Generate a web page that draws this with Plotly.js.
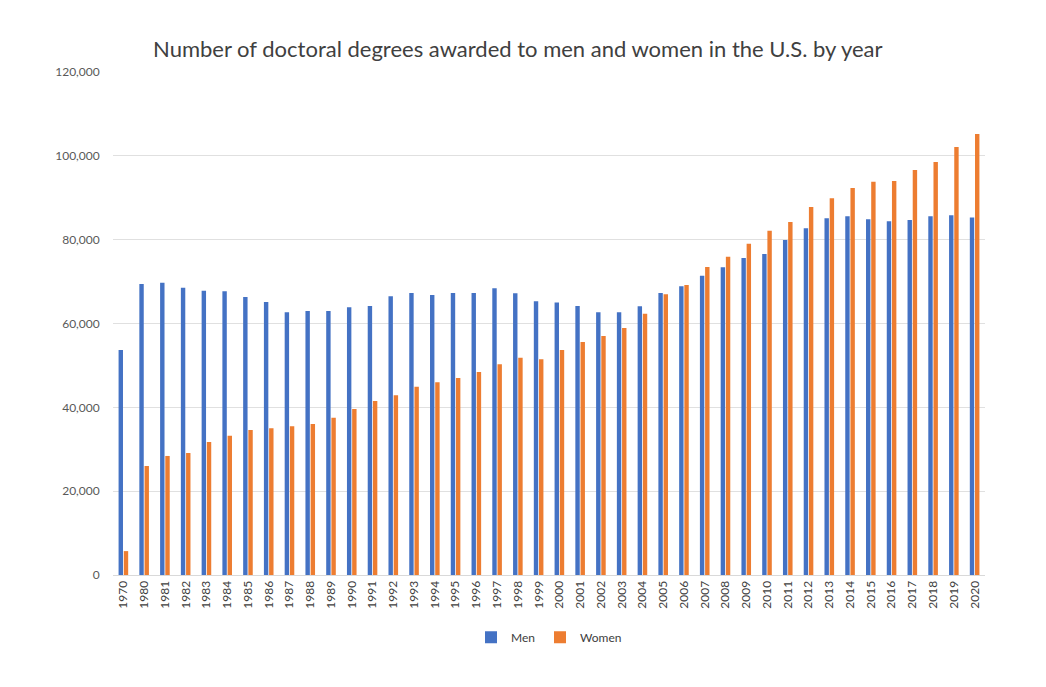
<!DOCTYPE html>
<html><head><meta charset="utf-8">
<script src="https://cdn.plot.ly/plotly-3.0.1.min.js"></script>
<style>body{margin:0;background:#fff}</style>
</head><body><div id="c" style="width:1046px;height:687px"></div>
<script>
const years = ["1970","1980","1981","1982","1983","1984","1985","1986","1987","1988","1989","1990","1991","1992","1993","1994","1995","1996","1997","1998","1999","2000","2001","2002","2003","2004","2005","2006","2007","2008","2009","2010","2011","2012","2013","2014","2015","2016","2017","2018","2019","2020"];
const men = [53700,69400,69700,68500,67800,67700,66300,65100,62700,63000,63000,63900,64200,66500,67300,66800,67300,67300,68400,67200,65300,65000,64200,62700,62700,64100,67300,68900,71400,73400,75600,76600,79900,82700,85100,85600,84900,84400,84700,85600,85800,85300];
const women = [5700,26000,28400,29100,31700,33200,34600,35000,35500,36000,37500,39600,41500,42900,44900,46000,47000,48400,50300,51800,51500,53700,55600,57000,58900,62300,67000,69200,73500,75900,79000,82100,84200,87800,89900,92300,93800,94000,96600,98500,102100,105200];
const font = "Lato, 'Open Sans', sans-serif";
Plotly.newPlot('c', [
 {type:'bar', name:'Men', x:years, y:men, marker:{color:'#4472C4'}},
 {type:'bar', name:'Women', x:years, y:women, marker:{color:'#ED7D31'}}
], {
 width:1046, height:687, paper_bgcolor:'#fff', plot_bgcolor:'#fff',
 margin:{l:113, r:61, t:72, b:112},
 title:{text:'Number of doctoral degrees awarded to men and women in the U.S. by year', x:0.495, xanchor:'center', y:0.94, font:{family:font, size:22, color:'#404040'}},
 font:{family:font, color:'#595959', size:12},
 bargap:0.5, bargroupgap:0.15,
 xaxis:{type:'category', tickangle:-90, showline:true, linecolor:'#d9d9d9', ticks:'', tickfont:{size:12, color:'#404040'}},
 yaxis:{range:[0,120000], dtick:20000, tickformat:',', gridcolor:'#e0e0e0', zeroline:false, tickfont:{size:12, color:'#595959'}, ticksuffix:'    '},
 legend:{orientation:'h', x:0.5, xanchor:'center', y:-0.095, yanchor:'top', itemwidth:30, font:{size:12, color:'#404040'}}
}, {displayModeBar:false});
</script></body></html>
